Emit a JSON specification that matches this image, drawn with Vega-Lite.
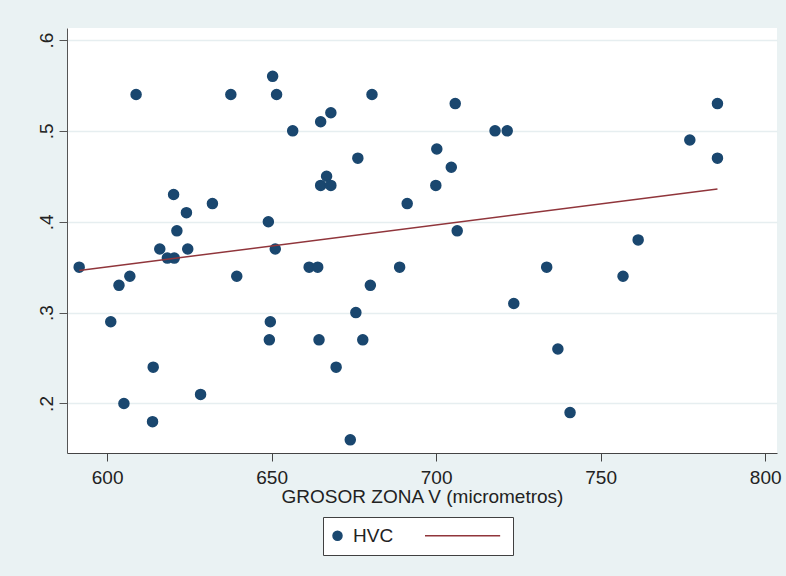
{
  "$schema": "https://vega.github.io/schema/vega-lite/v6.json",
  "width": 710,
  "height": 425,
  "autosize": {"type": "none"},
  "padding": {"left": 67, "top": 28, "right": 9, "bottom": 123},
  "background": "#eaf2f3",
  "config": {
    "view": {"fill": "white", "stroke": null},
    "font": "Liberation Sans",
    "axis": {"labelFont": "Liberation Sans", "titleFont": "Liberation Sans"},
    "legend": {
      "orient": "none",
      "legendX": 256,
      "legendY": 489,
      "direction": "horizontal",
      "padding": 9,
      "strokeColor": "#404040",
      "fillColor": "white",
      "symbolSize": 81,
      "symbolStrokeWidth": 1.5,
      "symbolOffset": -4,
      "labelFont": "Liberation Sans",
      "labelFontSize": 19,
      "labelColor": "#222222",
      "labelOffset": 6,
      "columnPadding": 28
    }
  },
  "datasets": {
    "pts": [
      {"grosor": 591.5, "hvc": 0.35, "serie": "HVC"},
      {"grosor": 601.1, "hvc": 0.29, "serie": "HVC"},
      {"grosor": 603.6, "hvc": 0.33, "serie": "HVC"},
      {"grosor": 605.1, "hvc": 0.20, "serie": "HVC"},
      {"grosor": 606.9, "hvc": 0.34, "serie": "HVC"},
      {"grosor": 608.8, "hvc": 0.54, "serie": "HVC"},
      {"grosor": 614.0, "hvc": 0.24, "serie": "HVC"},
      {"grosor": 613.8, "hvc": 0.18, "serie": "HVC"},
      {"grosor": 616.0, "hvc": 0.37, "serie": "HVC"},
      {"grosor": 618.3, "hvc": 0.36, "serie": "HVC"},
      {"grosor": 620.4, "hvc": 0.36, "serie": "HVC"},
      {"grosor": 620.2, "hvc": 0.43, "serie": "HVC"},
      {"grosor": 621.2, "hvc": 0.39, "serie": "HVC"},
      {"grosor": 624.1, "hvc": 0.41, "serie": "HVC"},
      {"grosor": 624.5, "hvc": 0.37, "serie": "HVC"},
      {"grosor": 628.4, "hvc": 0.21, "serie": "HVC"},
      {"grosor": 632.0, "hvc": 0.42, "serie": "HVC"},
      {"grosor": 637.6, "hvc": 0.54, "serie": "HVC"},
      {"grosor": 639.4, "hvc": 0.34, "serie": "HVC"},
      {"grosor": 649.0, "hvc": 0.40, "serie": "HVC"},
      {"grosor": 649.3, "hvc": 0.27, "serie": "HVC"},
      {"grosor": 649.6, "hvc": 0.29, "serie": "HVC"},
      {"grosor": 650.3, "hvc": 0.56, "serie": "HVC"},
      {"grosor": 651.5, "hvc": 0.54, "serie": "HVC"},
      {"grosor": 651.1, "hvc": 0.37, "serie": "HVC"},
      {"grosor": 656.4, "hvc": 0.50, "serie": "HVC"},
      {"grosor": 661.4, "hvc": 0.35, "serie": "HVC"},
      {"grosor": 664.0, "hvc": 0.35, "serie": "HVC"},
      {"grosor": 664.4, "hvc": 0.27, "serie": "HVC"},
      {"grosor": 664.9, "hvc": 0.51, "serie": "HVC"},
      {"grosor": 664.9, "hvc": 0.44, "serie": "HVC"},
      {"grosor": 666.7, "hvc": 0.45, "serie": "HVC"},
      {"grosor": 668.0, "hvc": 0.44, "serie": "HVC"},
      {"grosor": 668.0, "hvc": 0.52, "serie": "HVC"},
      {"grosor": 669.6, "hvc": 0.24, "serie": "HVC"},
      {"grosor": 673.9, "hvc": 0.16, "serie": "HVC"},
      {"grosor": 675.6, "hvc": 0.30, "serie": "HVC"},
      {"grosor": 676.2, "hvc": 0.47, "serie": "HVC"},
      {"grosor": 677.7, "hvc": 0.27, "serie": "HVC"},
      {"grosor": 680.0, "hvc": 0.33, "serie": "HVC"},
      {"grosor": 680.5, "hvc": 0.54, "serie": "HVC"},
      {"grosor": 688.9, "hvc": 0.35, "serie": "HVC"},
      {"grosor": 691.2, "hvc": 0.42, "serie": "HVC"},
      {"grosor": 699.9, "hvc": 0.44, "serie": "HVC"},
      {"grosor": 700.2, "hvc": 0.48, "serie": "HVC"},
      {"grosor": 704.6, "hvc": 0.46, "serie": "HVC"},
      {"grosor": 705.8, "hvc": 0.53, "serie": "HVC"},
      {"grosor": 706.4, "hvc": 0.39, "serie": "HVC"},
      {"grosor": 717.9, "hvc": 0.50, "serie": "HVC"},
      {"grosor": 721.6, "hvc": 0.50, "serie": "HVC"},
      {"grosor": 723.6, "hvc": 0.31, "serie": "HVC"},
      {"grosor": 733.6, "hvc": 0.35, "serie": "HVC"},
      {"grosor": 737.0, "hvc": 0.26, "serie": "HVC"},
      {"grosor": 740.7, "hvc": 0.19, "serie": "HVC"},
      {"grosor": 756.8, "hvc": 0.34, "serie": "HVC"},
      {"grosor": 761.4, "hvc": 0.38, "serie": "HVC"},
      {"grosor": 777.1, "hvc": 0.49, "serie": "HVC"},
      {"grosor": 785.5, "hvc": 0.53, "serie": "HVC"},
      {"grosor": 785.5, "hvc": 0.47, "serie": "HVC"}
    ],
    "fit": [
      {"grosor": 591.5, "hvc": 0.3463},
      {"grosor": 785.5, "hvc": 0.4361}
    ]
  },
  "layer": [
    {
      "data": {"name": "pts"},
      "mark": {"type": "point", "filled": true, "size": 100, "opacity": 1, "strokeWidth": 1.5},
      "encoding": {
        "x": {
          "field": "grosor",
          "type": "quantitative",
          "scale": {"domain": [587.8, 803.6], "nice": false, "zero": false},
          "axis": {
            "values": [600, 650, 700, 750, 800],
            "title": "GROSOR ZONA V (micrometros)",
            "grid": false,
            "domainColor": "#444444",
            "tickColor": "#444444",
            "tickSize": 8,
            "labelPadding": 7,
            "labelFontSize": 19,
            "labelColor": "#222222",
            "labelFlush": false,
            "titleFontSize": 19,
            "titleFontWeight": "normal",
            "titleColor": "#222222",
            "titlePadding": 0
          }
        },
        "y": {
          "field": "hvc",
          "type": "quantitative",
          "scale": {"domain": [0.1455, 0.6132], "nice": false, "zero": false},
          "axis": {
            "values": [0.2, 0.3, 0.4, 0.5, 0.6],
            "labelExpr": "substring(format(datum.value, '.1f'), 1)",
            "title": null,
            "grid": true,
            "gridColor": "#e6eef0",
            "gridWidth": 1.5,
            "domainColor": "#555555",
            "tickColor": "#555555",
            "tickSize": 8,
            "labelAngle": -90,
            "labelAlign": "center",
            "labelBaseline": "alphabetic",
            "labelPadding": 7,
            "labelFontSize": 19,
            "labelColor": "#222222"
          }
        },
        "color": {
          "field": "serie",
          "type": "nominal",
          "scale": {"domain": ["HVC", "\u00a0\u00a0\u00a0\u00a0\u00a0\u00a0\u00a0\u00a0\u00a0\u00a0\u00a0\u00a0\u00a0"], "range": ["#1a476f", "#90353b"]},
          "legend": {"title": null}
        },
        "stroke": {
          "field": "serie",
          "type": "nominal",
          "scale": {"domain": ["HVC", "\u00a0\u00a0\u00a0\u00a0\u00a0\u00a0\u00a0\u00a0\u00a0\u00a0\u00a0\u00a0\u00a0"], "range": ["#1a476f", "#90353b"]},
          "legend": {"title": null}
        },
        "shape": {
          "field": "serie",
          "type": "nominal",
          "scale": {"domain": ["HVC", "\u00a0\u00a0\u00a0\u00a0\u00a0\u00a0\u00a0\u00a0\u00a0\u00a0\u00a0\u00a0\u00a0"], "range": ["circle", "M-1,0H15.7"]},
          "legend": {"title": null}
        }
      }
    },
    {
      "data": {"name": "fit"},
      "mark": {"type": "line", "color": "#90353b", "strokeWidth": 1.5},
      "encoding": {
        "x": {"field": "grosor", "type": "quantitative"},
        "y": {"field": "hvc", "type": "quantitative"}
      }
    }
  ]
}
